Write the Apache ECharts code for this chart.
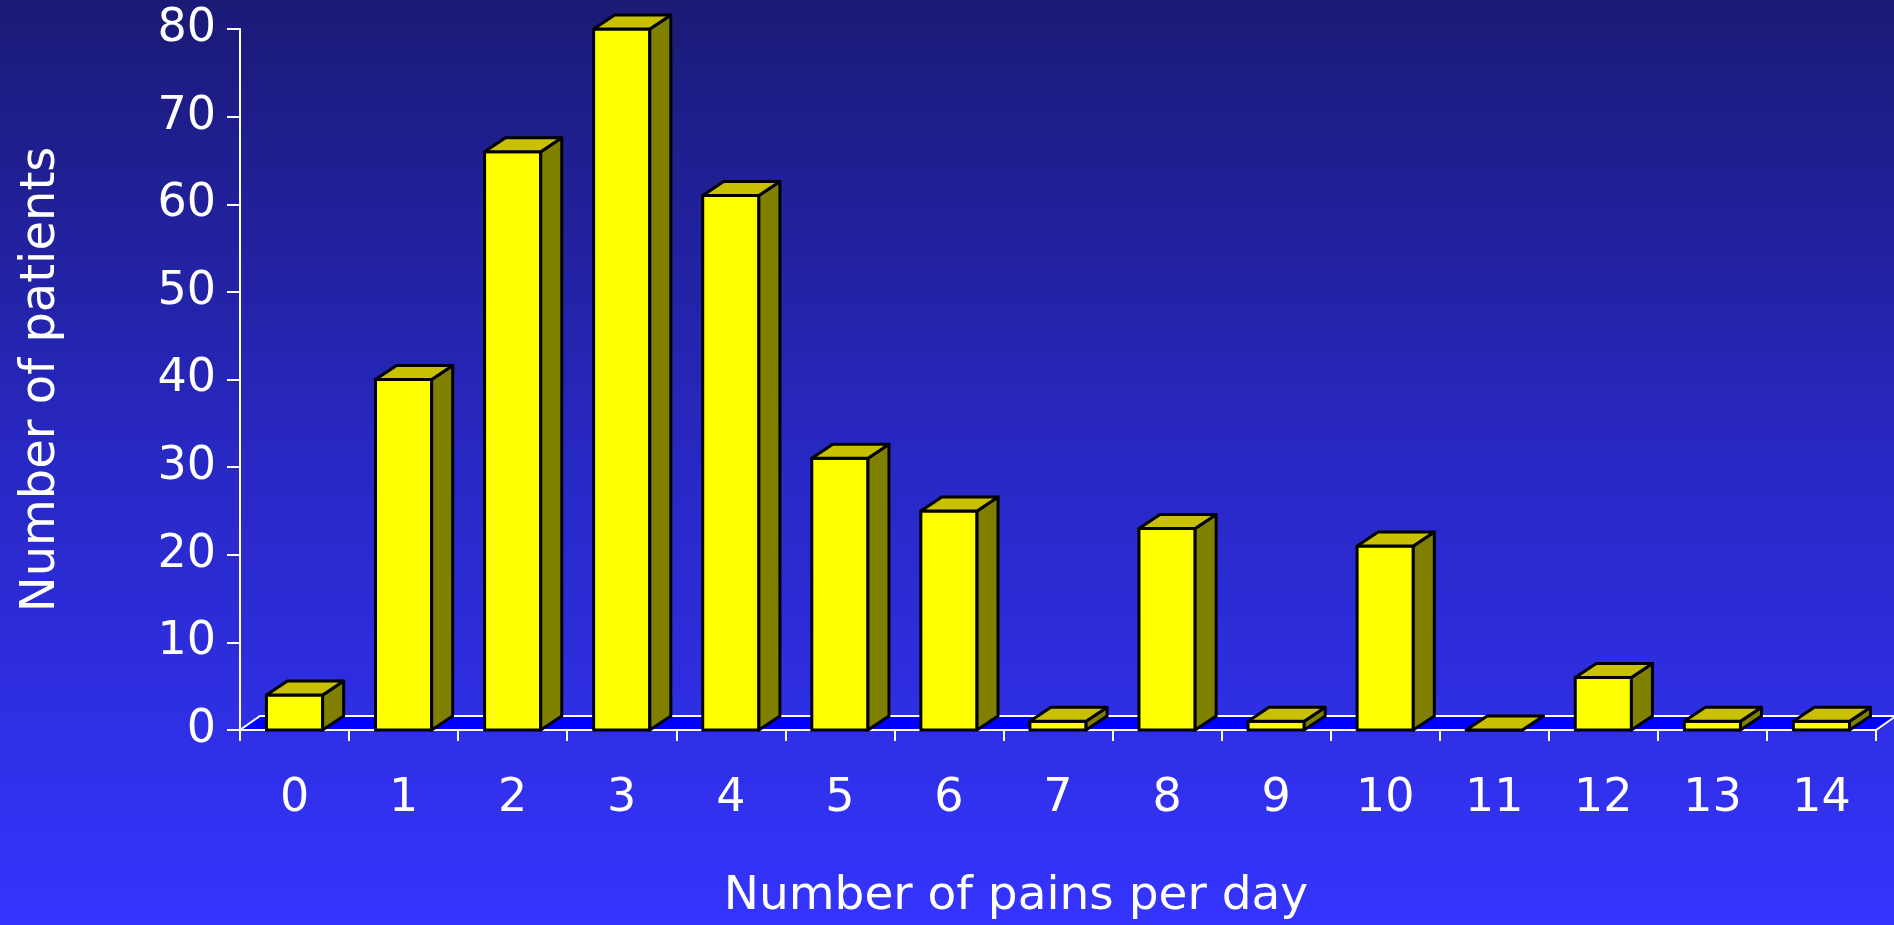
<!DOCTYPE html>
<html>
<head>
<meta charset="utf-8">
<script src="https://cdn.jsdelivr.net/npm/echarts@6/dist/echarts.min.js"></script>
<style>
html,body{margin:0;padding:0;width:1894px;height:925px;overflow:hidden;}
#chart{width:1894px;height:925px;}
</style>
</head>
<body>
<div id="chart"></div>
<script>
const categories = ['0','1','2','3','4','5','6','7','8','9','10','11','12','13','14'];
const patients = [4, 40, 66, 80, 61, 31, 25, 1, 23, 1, 21, 0, 6, 1, 1];
const yTicks = { min: 0, max: 80, interval: 10 };
const xTitle = 'Number of pains per day';
const yTitle = 'Number of patients';

const DX = 21, DY = 14;
const chart = echarts.init(document.getElementById('chart'));

function barItem(params, api) {
  const idx = api.value(0);
  const v = api.value(1);
  const base = api.coord([idx, 0]);
  const top = api.coord([idx, v]);
  const w = api.size([1, 0])[0] * 0.515;
  const x0 = base[0] - w / 2, x1 = base[0] + w / 2, yb = base[1], yt = top[1];
  const st = { stroke: '#000', lineWidth: 3, lineJoin: 'round' };
  return {
    type: 'group',
    children: [
      { type: 'polygon', shape: { points: [[x0, yt], [x1, yt], [x1, yb], [x0, yb]] },
        style: Object.assign({ fill: '#ffff00' }, st) },
      { type: 'polygon', shape: { points: [[x1, yt], [x1 + DX, yt - DY], [x1 + DX, yb - DY], [x1, yb]] },
        style: Object.assign({ fill: '#808000' }, st) },
      { type: 'polygon', shape: { points: [[x0, yt], [x0 + DX, yt - DY], [x1 + DX, yt - DY], [x1, yt]] },
        style: Object.assign({ fill: '#c8c000' }, st) }
    ]
  };
}

function floorItem(params, api) {
  const cs = params.coordSys;
  const yb = cs.y + cs.height;
  return {
    type: 'polygon',
    shape: { points: [[cs.x, yb], [cs.x + cs.width, yb], [cs.x + cs.width + 20, yb - 14], [cs.x + 20, yb - 14]] },
    style: { fill: '#0000ff', stroke: '#ffffff', lineWidth: 2 }
  };
}

const labelFont = 'DejaVu Sans';
const titleFont = '"Comic Sans MS", "DejaVu Sans", sans-serif';

chart.setOption({
  backgroundColor: {
    type: 'linear', x: 0, y: 0, x2: 0, y2: 1,
    colorStops: [
      { offset: 0, color: '#1b1a76' },
      { offset: 0.5, color: '#2828c4' },
      { offset: 1, color: '#3434fe' }
    ]
  },
  animation: false,
  grid: { left: 240, right: 18, top: 29, bottom: 192, containLabel: false },
  xAxis: {
    type: 'category',
    data: categories,
    boundaryGap: true,
    axisLine: { show: true, lineStyle: { color: '#ffffff', width: 2 } },
    axisTick: { show: true, interval: 0, length: 11, lineStyle: { color: '#ffffff', width: 2 } },
    axisLabel: { interval: 0, color: '#ffffff', fontSize: 46, fontFamily: labelFont, margin: 46 },
    name: xTitle,
    nameLocation: 'middle',
    nameGap: 143,
    nameTextStyle: {
      color: '#ffffff', fontSize: 47, fontFamily: titleFont,
      textShadowColor: '#000', textShadowOffsetX: 3, textShadowOffsetY: 3, textShadowBlur: 0,
      padding: [0, 84, 0, 0]
    },
    splitLine: { show: false }
  },
  yAxis: {
    type: 'value',
    min: yTicks.min, max: yTicks.max, interval: yTicks.interval,
    axisLine: { show: true, lineStyle: { color: '#ffffff', width: 2 } },
    axisTick: { show: true, length: 13, lineStyle: { color: '#ffffff', width: 2 } },
    axisLabel: { color: '#ffffff', fontSize: 46, fontFamily: labelFont, margin: 24 },
    splitLine: { show: false },
    name: yTitle,
    nameLocation: 'middle',
    nameGap: 174,
    nameTextStyle: {
      color: '#ffffff', fontSize: 48, fontFamily: titleFont,
      textShadowColor: '#000', textShadowOffsetX: 3, textShadowOffsetY: 3, textShadowBlur: 0
    }
  },
  series: [
    { type: 'custom', z: 1, renderItem: floorItem, data: [[0, 0]], silent: true, clip: false },
    { type: 'custom', z: 3, renderItem: barItem, clip: false,
      data: patients.map((v, i) => [i, v]), encode: { x: 0, y: 1 } }
  ]
});
</script>
</body>
</html>
